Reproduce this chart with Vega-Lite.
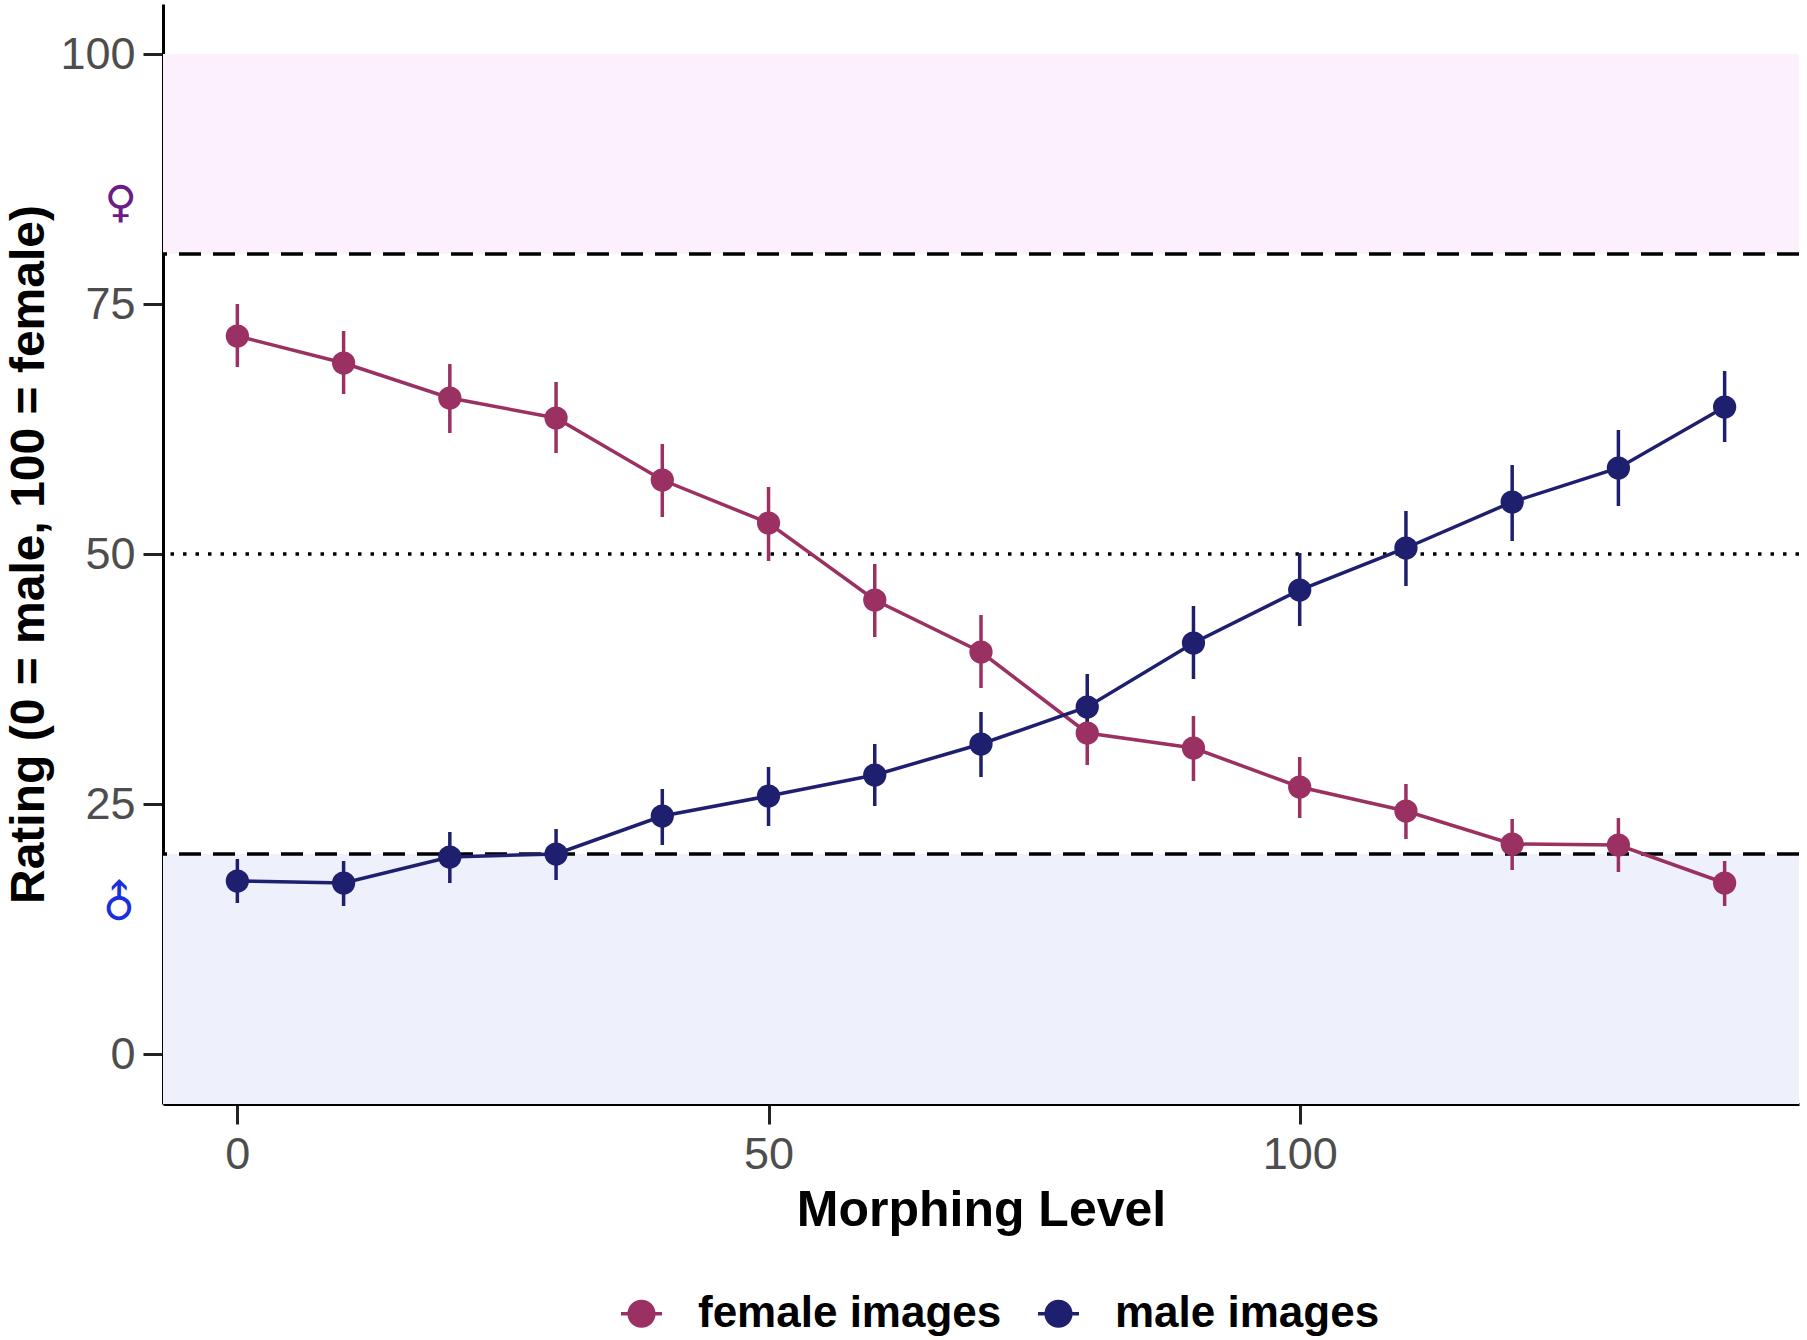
{
  "$schema": "https://vega.github.io/schema/vega-lite/v6.json",
  "autosize": "none",
  "width": 1636,
  "height": 1100,
  "padding": {"left": 163, "top": 4, "right": 8, "bottom": 236},
  "background": "white",
  "datasets": {
    "ratings": [
      {"level": 0, "images": "female images", "rating": 71.8, "lo": 68.7, "hi": 75.0},
      {"level": 10, "images": "female images", "rating": 69.1, "lo": 66.0, "hi": 72.3},
      {"level": 20, "images": "female images", "rating": 65.6, "lo": 62.1, "hi": 69.0},
      {"level": 30, "images": "female images", "rating": 63.6, "lo": 60.1, "hi": 67.2},
      {"level": 40, "images": "female images", "rating": 57.4, "lo": 53.7, "hi": 61.0},
      {"level": 50, "images": "female images", "rating": 53.1, "lo": 49.3, "hi": 56.7},
      {"level": 60, "images": "female images", "rating": 45.4, "lo": 41.7, "hi": 49.0},
      {"level": 70, "images": "female images", "rating": 40.2, "lo": 36.6, "hi": 43.9},
      {"level": 80, "images": "female images", "rating": 32.1, "lo": 28.9, "hi": 35.6},
      {"level": 90, "images": "female images", "rating": 30.6, "lo": 27.3, "hi": 33.8},
      {"level": 100, "images": "female images", "rating": 26.7, "lo": 23.6, "hi": 29.7},
      {"level": 110, "images": "female images", "rating": 24.3, "lo": 21.5, "hi": 27.0},
      {"level": 120, "images": "female images", "rating": 21.0, "lo": 18.4, "hi": 23.5},
      {"level": 130, "images": "female images", "rating": 20.9, "lo": 18.2, "hi": 23.6},
      {"level": 140, "images": "female images", "rating": 17.1, "lo": 14.8, "hi": 19.3},
      {"level": 0, "images": "male images", "rating": 17.3, "lo": 15.1, "hi": 19.5},
      {"level": 10, "images": "male images", "rating": 17.1, "lo": 14.8, "hi": 19.3},
      {"level": 20, "images": "male images", "rating": 19.7, "lo": 17.1, "hi": 22.2},
      {"level": 30, "images": "male images", "rating": 20.0, "lo": 17.4, "hi": 22.5},
      {"level": 40, "images": "male images", "rating": 23.8, "lo": 20.9, "hi": 26.5},
      {"level": 50, "images": "male images", "rating": 25.8, "lo": 22.8, "hi": 28.7},
      {"level": 60, "images": "male images", "rating": 27.9, "lo": 24.8, "hi": 31.0},
      {"level": 70, "images": "male images", "rating": 31.0, "lo": 27.7, "hi": 34.2},
      {"level": 80, "images": "male images", "rating": 34.7, "lo": 31.4, "hi": 38.0},
      {"level": 90, "images": "male images", "rating": 41.1, "lo": 37.5, "hi": 44.8},
      {"level": 100, "images": "male images", "rating": 46.4, "lo": 42.8, "hi": 50.1},
      {"level": 110, "images": "male images", "rating": 50.6, "lo": 46.8, "hi": 54.3},
      {"level": 120, "images": "male images", "rating": 55.2, "lo": 51.3, "hi": 58.9},
      {"level": 130, "images": "male images", "rating": 58.6, "lo": 54.8, "hi": 62.4},
      {"level": 140, "images": "male images", "rating": 64.7, "lo": 61.2, "hi": 68.3}
    ],
    "zones": [
      {"zone": "female", "x0": -7, "x1": 147, "y0": 80, "y1": 100},
      {"zone": "male", "x0": -7, "x1": 147, "y0": -5, "y1": 20}
    ],
    "cuts": [
      {"cut": 20},
      {"cut": 80}
    ],
    "mid": [{"cut": 50}],
    "signs": [
      {"sign": "♀", "who": "female", "x": -11, "y": 85},
      {"sign": "♂", "who": "male", "x": -11, "y": 15}
    ]
  },
  "config": {
    "view": {"stroke": null},
    "font": "Liberation Sans",
    "axis": {
      "grid": false,
      "domainColor": "black",
      "domainWidth": 3,
      "tickColor": "#222222",
      "tickWidth": 3,
      "tickSize": 20,
      "labelFont": "Liberation Sans",
      "labelFontSize": 45,
      "labelColor": "#4D4D4D",
      "labelPadding": 8,
      "titleFont": "Liberation Sans",
      "titleFontSize": 50,
      "titleFontWeight": "bold",
      "titleColor": "black"
    },
    "legend": {
      "labelFont": "Liberation Sans",
      "labelFontSize": 44,
      "labelFontWeight": "bold",
      "labelColor": "black",
      "labelLimit": 0
    }
  },
  "layer": [
    {
      "data": {"name": "zones"},
      "mark": {"type": "rect"},
      "encoding": {
        "x": {"field": "x0", "type": "quantitative", "scale": {"domain": [-7, 147], "nice": false, "zero": false}},
        "x2": {"field": "x1"},
        "y": {"field": "y0", "type": "quantitative", "scale": {"domain": [-5, 105], "nice": false}},
        "y2": {"field": "y1"},
        "fill": {"field": "zone", "type": "nominal", "scale": {"domain": ["female", "male"], "range": ["#FCF0FC", "#EEF1FC"]}, "legend": null}
      }
    },
    {
      "data": {"name": "cuts"},
      "mark": {"type": "rule", "color": "black", "strokeWidth": 3.5, "strokeDash": [22, 12]},
      "encoding": {"y": {"field": "cut", "type": "quantitative"}}
    },
    {
      "data": {"name": "mid"},
      "mark": {"type": "rule", "color": "black", "strokeWidth": 3.5, "strokeDash": [3.5, 9]},
      "encoding": {"y": {"field": "cut", "type": "quantitative"}}
    },
    {
      "data": {"name": "signs"},
      "mark": {"type": "text", "fontSize": 44, "font": "DejaVu Sans"},
      "encoding": {
        "x": {"field": "x", "type": "quantitative"},
        "y": {"field": "y", "type": "quantitative"},
        "text": {"field": "sign"},
        "angle": {"condition": {"test": "datum.who === 'male'", "value": -45}, "value": 0},
        "color": {"condition": {"test": "datum.who === 'male'", "value": "#1A2FDB"}, "value": "#6B1D85"}
      }
    },
    {
      "data": {"name": "ratings"},
      "mark": {"type": "line", "strokeWidth": 3.5},
      "encoding": {
        "x": {"field": "level", "type": "quantitative", "title": "Morphing Level", "axis": {"values": [0, 50, 100], "titlePadding": 8}},
        "y": {"field": "rating", "type": "quantitative", "title": "Rating (0 = male, 100 = female)", "axis": {"values": [0, 25, 50, 75, 100], "titlePadding": 6, "titleFontSize": 48}},
        "color": {
          "field": "images", "type": "nominal",
          "scale": {"domain": ["female images", "male images"], "range": ["#9B3162", "#1F1F6F"]},
          "legend": {
            "title": null,
            "orient": "none",
            "direction": "horizontal",
            "legendX": 456,
            "legendY": 1287,
            "symbolType": "M-1,0H1M0.6,0A0.6,0.6,0,1,1,-0.6,0A0.6,0.6,0,1,1,0.6,0Z",
            "symbolSize": 1681,
            "symbolStrokeWidth": 3.5,
            "symbolOpacity": 1,
            "labelOffset": 34,
            "columnPadding": 29,
            "encode": {
              "symbols": {
                "update": {
                  "fill": {"scale": "color", "field": "value"},
                  "stroke": {"scale": "color", "field": "value"},
                  "strokeWidth": {"value": 3.5}
                }
              }
            }
          }
        }
      }
    },
    {
      "data": {"name": "ratings"},
      "mark": {"type": "rule", "strokeWidth": 3.5},
      "encoding": {
        "x": {"field": "level", "type": "quantitative"},
        "y": {"field": "lo", "type": "quantitative"},
        "y2": {"field": "hi"},
        "color": {"field": "images", "type": "nominal"}
      }
    },
    {
      "data": {"name": "ratings"},
      "mark": {"type": "point", "filled": true, "size": 540, "opacity": 1},
      "encoding": {
        "x": {"field": "level", "type": "quantitative"},
        "y": {"field": "rating", "type": "quantitative"},
        "color": {"field": "images", "type": "nominal"}
      }
    }
  ]
}
